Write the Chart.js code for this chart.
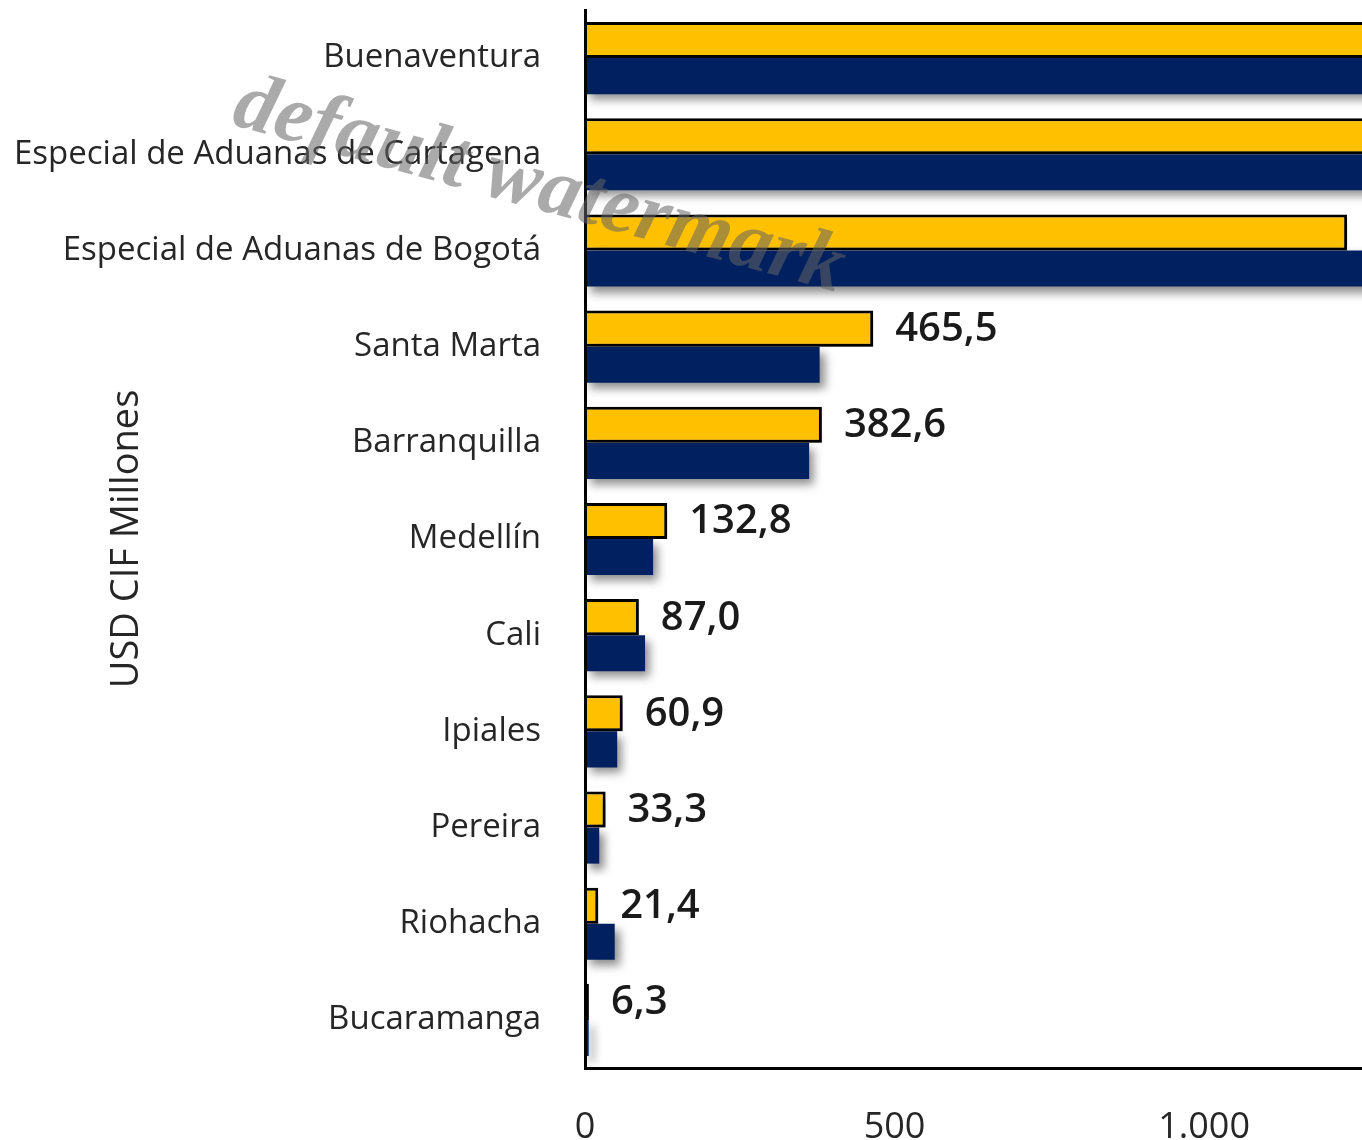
<!DOCTYPE html>
<html lang="es">
<head>
<meta charset="utf-8">
<title>Importaciones por aduana</title>
<script src="https://cdn.jsdelivr.net/npm/chart.js@4/dist/chart.umd.min.js"></script>
<style>
  html, body { margin: 0; padding: 0; background: #ffffff; }
  #wrap { width: 1362px; height: 1140px; position: relative; }
</style>
</head>
<body>
<div id="wrap"><canvas id="aduanas"></canvas></div>
<script>
/* ============================================================
   Datos
   ============================================================ */
const categories = [
  "Buenaventura",
  "Especial de Aduanas de Cartagena",
  "Especial de Aduanas de Bogotá",
  "Santa Marta",
  "Barranquilla",
  "Medellín",
  "Cali",
  "Ipiales",
  "Pereira",
  "Riohacha",
  "Bucaramanga"
];

// serie amarilla (con etiqueta); las dos primeras salen del gráfico, valor estimado
const serieActual = [2480.0, 1950.0, 1231.0, 465.5, 382.6, 132.8, 87.0, 60.9, 33.3, 21.4, 6.3];
// serie azul (sin etiqueta)
const serieAnterior = [2700, 2150, 1420, 379, 362, 110, 97, 52, 23, 48, 6];

const xTicks = [0, 500, 1000];
const xTickLabels = ["0", "500", "1.000"];

const axisTitle = "USD CIF Millones";
const watermarkText = "default watermark";

/* ============================================================
   Colores
   ============================================================ */
const AMARILLO = "#FFC000";
const AZUL = "#002060";
const TEXTO = "#262626";

function formatoCO(v) {
  return v.toFixed(1).replace(".", ",");
}

/* ============================================================
   Plugins
   ============================================================ */
// sombra suave bajo las barras
const shadowPlugin = {
  id: "barShadow",
  beforeDatasetDraw(chart) {
    const ctx = chart.ctx;
    ctx.save();
    ctx.shadowColor = "rgba(0,0,0,0.45)";
    ctx.shadowBlur = 9;
    ctx.shadowOffsetX = 5;
    ctx.shadowOffsetY = 6;
  },
  afterDatasetDraw(chart) {
    chart.ctx.restore();
  }
};

// etiquetas de valor en la serie amarilla
const valueLabelPlugin = {
  id: "valueLabels",
  afterDatasetsDraw(chart) {
    const ctx = chart.ctx;
    const meta = chart.getDatasetMeta(0);
    ctx.save();
    ctx.font = "600 40px 'Open Sans'";
    ctx.fillStyle = "#1a1a1a";
    ctx.textAlign = "left";
    ctx.textBaseline = "middle";
    meta.data.forEach((bar, i) => {
      const x = bar.x + 22;
      if (x > chart.chartArea.right) return;
      ctx.fillText(formatoCO(serieActual[i]), x, bar.y + 1);
    });
    ctx.restore();
  }
};

// marca de agua
const watermarkPlugin = {
  id: "watermark",
  afterDraw(chart) {
    const ctx = chart.ctx;
    ctx.save();
    ctx.translate(230, 124);
    ctx.rotate(15.5 * Math.PI / 180);
    ctx.font = "italic bold 83px 'Liberation Serif'";
    ctx.fillStyle = "rgba(100,100,100,0.55)";
    ctx.textBaseline = "alphabetic";
    ctx.fillText(watermarkText, 0, 0);
    ctx.restore();
  }
};

/* ============================================================
   Gráfico
   ============================================================ */
const canvas = document.getElementById("aduanas");

new Chart(canvas, {
  type: "bar",
  data: {
    labels: categories,
    datasets: [
      {
        label: "Actual",
        data: serieActual,
        backgroundColor: AMARILLO,
        borderColor: "#000000",
        borderWidth: 3,
        categoryPercentage: 0.75,
        barPercentage: 1.0
      },
      {
        label: "Anterior",
        data: serieAnterior,
        backgroundColor: AZUL,
        borderWidth: 0,
        categoryPercentage: 0.75,
        barPercentage: 1.0
      }
    ]
  },
  options: {
    indexAxis: "y",
    responsive: true,
    maintainAspectRatio: false,
    animation: false,
    layout: { padding: { left: 0, top: 10, right: 0, bottom: 0 } },
    plugins: {
      legend: { display: false },
      tooltip: { enabled: false }
    },
    scales: {
      x: {
        min: 0,
        max: 1255,
        afterBuildTicks(scale) {
          scale.ticks = xTicks.map(v => ({ value: v }));
        },
        afterFit(scale) {
          scale.height = 72;
          scale.paddingLeft = 0;
          scale.paddingRight = 0;
        },
        grid: { display: false, drawTicks: false },
        border: { display: true, color: "#000000", width: 3, z: 1 },
        ticks: {
          padding: 38,
          color: TEXTO,
          font: { family: "'Open Sans'", size: 36 },
          callback(value) {
            const i = xTicks.indexOf(value);
            return i >= 0 ? xTickLabels[i] : "";
          }
        }
      },
      y: {
        afterFit(scale) {
          scale.width = 585;
          scale.paddingTop = 0;
          scale.paddingBottom = 0;
        },
        grid: { display: false, drawTicks: false },
        border: { display: true, color: "#000000", width: 3, z: 1 },
        ticks: {
          padding: 44,
          color: TEXTO,
          font: { family: "'Open Sans'", size: 33 }
        },
        title: {
          display: true,
          text: axisTitle,
          color: TEXTO,
          padding: { top: 104, bottom: 0 },
          font: { family: "'Open Sans'", size: 38 }
        }
      }
    }
  },
  plugins: [shadowPlugin, valueLabelPlugin, watermarkPlugin]
});
</script>
</body>
</html>
